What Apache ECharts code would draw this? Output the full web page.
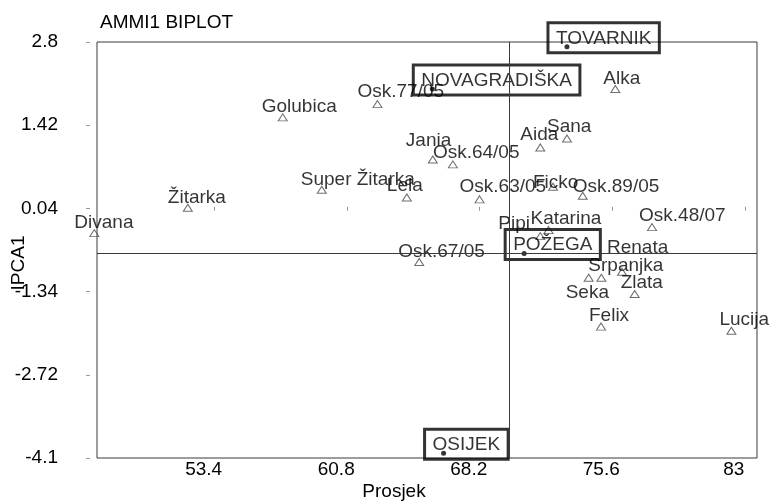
<!DOCTYPE html>
<html>
<head>
<meta charset="utf-8">
<script src="https://cdn.jsdelivr.net/npm/echarts@6/dist/echarts.min.js"></script>
<style>
  html, body { margin: 0; padding: 0; background: #fff; }
  #chart { width: 771px; height: 501px; }
</style>
</head>
<body>
<div id="chart"></div>
<script>
// genotipovi (trokuti)
const genotypes = ['Divana', 'Žitarka', 'Golubica', 'Super Žitarka', 'Osk.77/05', 'Lela', 'Jania', 'Osk.64/05',
  'Osk.63/05', 'Osk.67/05', 'Pipi', 'Katarina', 'Aida', 'Sana', 'Alka', 'Ficko', 'Osk.89/05', 'Osk.48/07',
  'Renata', 'Seka', 'Srpanjka', 'Zlata', 'Felix', 'Lucija'];
const genoMean = [46.68, 51.90, 57.20, 59.38, 62.49, 64.13, 65.58, 66.70, 68.19, 64.82, 71.58, 72.04,
  71.58, 73.07, 75.77, 72.29, 73.95, 77.82, 76.14, 74.28, 74.99, 76.85, 74.97, 82.25];
const genoIpca = [-0.37, 0.05, 1.55, 0.35, 1.77, 0.22, 0.85, 0.77, 0.19, -0.85, -0.42, -0.32,
  1.05, 1.20, 2.02, 0.40, 0.25, -0.27, -1.01, -1.11, -1.11, -1.38, -1.92, -1.99];

// okoline (tocke u okvirima)
const environments = ['TOVARNIK', 'NOVAGRADIŠKA', 'POŽEGA', 'OSIJEK'];
const envMean = [73.07, 65.55, 70.68, 66.18];
const envIpca = [2.72, 2.02, -0.71, -4.02];

// sredine (referentne linije)
const grandMean = 69.83;
const ipcaCenter = -0.70;

// oznake osi
const xTicks = [53.4, 60.8, 68.2, 75.6, 83];
const yTicks = [-4.1, -2.72, -1.34, 0.04, 1.42, 2.8];

// pomak natpisa genotipa [dx, dy] (px) - samo raspored
const genoLabelShift = [[-20, -4], [-20, -4], [-21, -4], [-21, -3], [-20, -6], [-20, -5], [-27, -12], [-20, -5],
  [-20, -6], [-21, -4], [-42, -6], [-18, -5], [-20, -6], [-20, -5], [-12, -4], [-20, 3], [-10, -2], [-13, -5],
  [-15, -17], [-23, 22], [-13, -5], [-14, -5], [-12, -4], [-12, -5]];

const FONT = 'Liberation Sans, Arial, sans-serif';
const TXT = '#000';

var myChart = echarts.init(document.getElementById('chart'));

const genoData = genotypes.map(function (name, i) {
  return {
    name: name,
    value: [genoMean[i], genoIpca[i]],
    label: { offset: [genoLabelShift[i][0], genoLabelShift[i][1] + 3] }
  };
});

const envData = environments.map(function (name, i) {
  return { name: name, value: [envMean[i], envIpca[i]] };
});

const option = {
  animation: false,
  backgroundColor: '#fff',
  title: {
    text: 'AMMI1 BIPLOT',
    left: 100,
    top: 13,
    padding: 0,
    textStyle: { fontFamily: FONT, fontSize: 19, fontWeight: 'normal', color: TXT }
  },
  grid: {
    left: 97,
    right: 14,
    top: 42,
    bottom: 43,
    outerBoundsMode: 'none',
    containLabel: false,
    show: true,
    borderColor: '#3a3a3a',
    borderWidth: 1
  },
  xAxis: {
    type: 'value',
    min: 46.83,
    max: 83.68,
    offset: -4,
    name: 'Prosjek',
    nameLocation: 'middle',
    nameGap: 28,
    nameMoveOverlap: false,
    nameTextStyle: { fontFamily: FONT, fontSize: 19, color: TXT, padding: [0, 66, 0, 0] },
    axisLine: { show: false },
    axisTick: { show: true, inside: true, length: 4, lineStyle: { color: '#999' }, customValues: xTicks },
    axisLabel: {
      customValues: xTicks,
      margin: 6,
      fontFamily: FONT,
      fontSize: 19,
      color: TXT,
      padding: [0, 22, 0, 0],
      formatter: function (v) { return String(v); }
    },
    splitLine: { show: false }
  },
  yAxis: {
    type: 'value',
    min: -4.1,
    max: 2.8,
    offset: 7,
    name: 'IPCA1',
    nameLocation: 'middle',
    nameRotate: 90,
    nameGap: 62,
    nameMoveOverlap: false,
    nameTextStyle: { fontFamily: FONT, fontSize: 19, color: TXT, padding: [0, 26, 0, 0] },
    axisLine: { show: false },
    axisTick: { show: true, length: 4, lineStyle: { color: '#999' }, customValues: yTicks },
    axisLabel: {
      customValues: yTicks,
      margin: 32,
      fontFamily: FONT,
      fontSize: 19,
      color: TXT,
      formatter: function (v) { return String(v); }
    },
    splitLine: { show: false }
  },
  series: [
    {
      name: 'genotipovi',
      type: 'scatter',
      clip: false,
      symbol: 'triangle',
      symbolSize: [9, 7],
      itemStyle: { color: 'rgba(0,0,0,0)', borderColor: '#4a4a4a', borderWidth: 1 },
      label: {
        show: true,
        formatter: '{b}',
        position: 'inside',
        align: 'left',
        verticalAlign: 'bottom',
        fontFamily: FONT,
        fontSize: 19,
        color: TXT
      },
      markLine: {
        silent: true,
        symbol: 'none',
        label: { show: false },
        lineStyle: { color: '#3a3a3a', width: 1, type: 'solid' },
        data: [{ xAxis: grandMean }, { yAxis: ipcaCenter }]
      },
      data: genoData
    },
    {
      name: 'okoline',
      type: 'scatter',
      clip: false,
      symbol: 'circle',
      symbolSize: 5,
      itemStyle: { color: '#000' },
      label: {
        show: true,
        formatter: '{b}',
        position: 'inside',
        align: 'left',
        verticalAlign: 'top',
        offset: [-19, -24],
        padding: [6, 8, 5, 8],
        borderColor: '#000',
        borderWidth: 3,
        fontFamily: FONT,
        fontSize: 19,
        color: TXT
      },
      data: envData
    }
  ]
};

myChart.setOption(option);
</script>
</body>
</html>
